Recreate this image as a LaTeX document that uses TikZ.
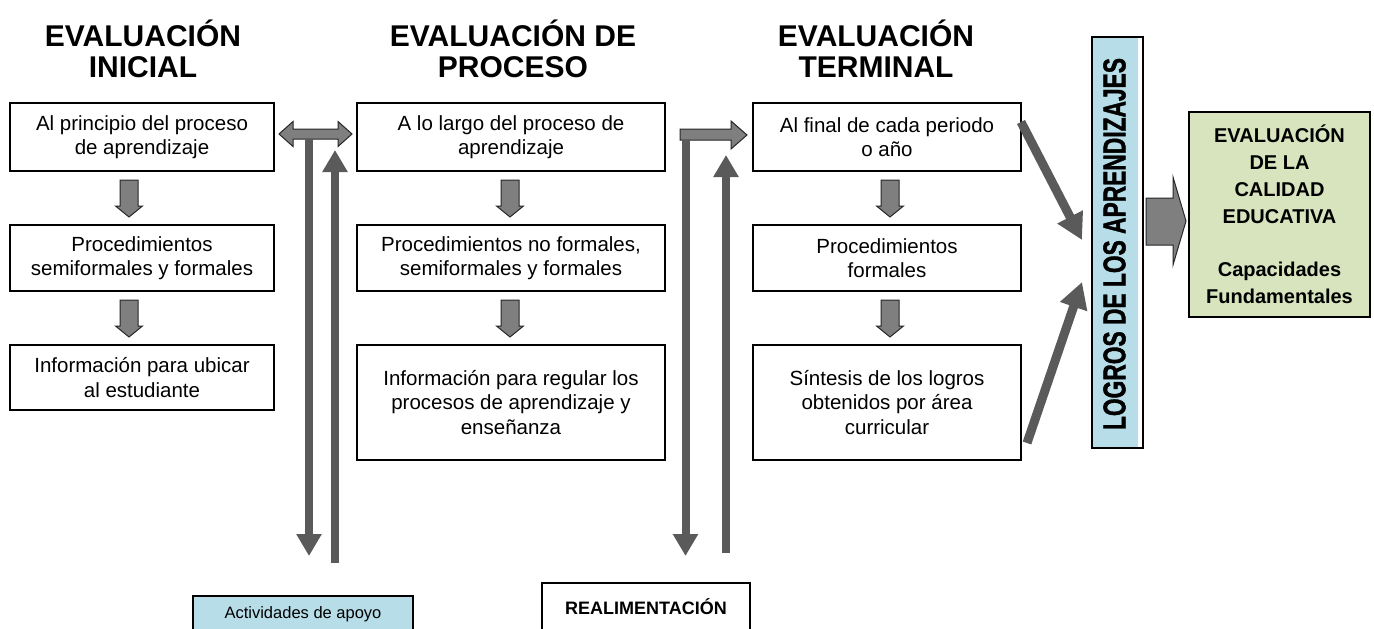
\documentclass[tikz,border=0pt]{standalone}
\usepackage{fontspec}
\setmainfont{Liberation Sans}
\newfontfamily\lgfont{Liberation Sans}[BoldFeatures={FakeBold=1.6}]
\usetikzlibrary{arrows.meta,calc}
\definecolor{lblue}{HTML}{B7DDE8}
\definecolor{lgreen}{HTML}{D7E4BD}
\definecolor{agray}{HTML}{7F7F7F}
\definecolor{dgray}{HTML}{5A5A5A}
\newcommand{\downblk}[3]{%
  \filldraw[blockarrow] ({#1-9},#2) -- ({#1+9},#2) -- ({#1+9},{#3-11}) -- ({#1+13.5},{#3-11})
    -- (#1,#3) -- ({#1-13.5},{#3-11}) -- ({#1-9},{#3-11}) -- cycle;}
\begin{document}
\begin{tikzpicture}[x=1pt,y=-1pt,
  box/.style={draw=black, line width=1.6pt, align=center, inner sep=2pt,
    font=\fontsize{20.5}{24.5}\selectfont},
  head/.style={align=center, inner sep=0pt, font=\fontsize{30}{31}\selectfont\bfseries},
  blockarrow/.style={fill=agray, draw=black!85, line width=1pt, line join=miter},
  thinarrow/.style={draw=dgray, line width=8pt, -{Triangle[width=24pt,length=22pt]}},
  diagarrow/.style={draw=dgray, line width=9pt, -{Triangle[width=27pt,length=26pt]}},
]
\useasboundingbox (0,0) rectangle (1374,629);

% headings
\node[head] (h1) at (143,50.5) {\rule{0pt}{30pt}EVALUACIÓN\\INICIAL\rule[-8pt]{0pt}{8pt}};
\node[head] (h2) at (513,50.5) {\rule{0pt}{30pt}EVALUACIÓN DE\\PROCESO\rule[-8pt]{0pt}{8pt}};
\node[head] (h3) at (876,50.5) {\rule{0pt}{30pt}EVALUACIÓN\\TERMINAL\rule[-8pt]{0pt}{8pt}};

% column 1
\node[box, minimum width=264pt, minimum height=68pt] (a1) at (142,137) {Al principio del proceso\\de aprendizaje};
\node[box, minimum width=264pt, minimum height=66pt] (a2) at (142,258) {Procedimientos\\semiformales y formales};
\node[box, minimum width=264pt, minimum height=65pt] (a3) at (142,377.5) {Información para ubicar\\al estudiante};
% column 2
\node[box, minimum width=308pt, minimum height=68pt] (b1) at (511,137) {A lo largo del proceso de\\aprendizaje};
\node[box, minimum width=308pt, minimum height=66pt] (b2) at (511,258) {Procedimientos no formales,\\semiformales y formales};
\node[box, minimum width=308pt, minimum height=115pt] (b3) at (511,402.5) {Información para regular los\\procesos de aprendizaje y\\enseñanza};
% column 3
\node[box, minimum width=268pt, minimum height=68pt] (c1) at (887,137) {Al final de cada periodo\\o año};
\node[box, minimum width=268pt, minimum height=66pt] (c2) at (887,258) {Procedimientos\\formales};
\node[box, minimum width=268pt, minimum height=115pt] (c3) at (887,402.5) {Síntesis de los logros\\obtenidos por área\\curricular};

% small block arrows
\downblk{129}{180}{217}
\downblk{129}{300}{337}
\downblk{510}{180}{217}
\downblk{510}{300}{337}
\downblk{890}{180}{217}
\downblk{890}{300}{337}

% horizontal block arrows
\filldraw[blockarrow] (279,134) -- (293,121.5) -- (293,129) -- (338,129) -- (338,121.5) -- (352,134)
  -- (338,146.5) -- (338,139) -- (293,139) -- (293,146.5) -- cycle;
\filldraw[blockarrow] (680,129) -- (731,129) -- (731,121) -- (747,135) -- (731,149) -- (731,140)
  -- (680,140) -- cycle;

% bottom boxes
\node[box, fill=lblue, minimum width=220pt, minimum height=36pt,
  font=\fontsize{16.5}{20}\selectfont] (act) at (303,614) {Actividades de apoyo};
\node[box, minimum width=208pt, minimum height=48pt,
  font=\fontsize{18}{22}\selectfont\bfseries] (real) at (646,607) {REALIMENTACIÓN};

% vertical arrows
\coordinate (d1s) at (309,138.5);
\coordinate (d1e) at (309,556);
\coordinate (u1s) at (335,563);
\coordinate (u1e) at (335,150);
\coordinate (d2s) at (685.5,139.5);
\coordinate (d2e) at (685.5,556);
\coordinate (u2s) at (726,553);
\coordinate (u2e) at (726,155);
\draw[thinarrow] (d1s) -- (d1e);
\draw[thinarrow] (u1s) -- (u1e);
\draw[thinarrow] (d2s) -- (d2e);
\draw[thinarrow] (u2s) -- (u2e);

% LOGROS box
\fill[lblue] (1092,37) rectangle (1137.5,448);
\draw[line width=1.6pt] (1092,37) rectangle (1143,448);
\node[rotate=90, inner sep=0pt] (logros) at (1114.5,244)
  {\resizebox{372pt}{22pt}{\lgfont\bfseries LOGROS DE LOS APRENDIZAJES}};

% diagonal arrows
\coordinate (g1s) at (1021,122);
\coordinate (g1e) at (1082,240);
\coordinate (g2s) at (1027,443);
\coordinate (g2e) at (1082,282);
\draw[diagarrow] (g1s) -- (g1e);
\draw[diagarrow] (g2s) -- (g2e);

% big arrow
\filldraw[blockarrow] (1146,198) -- (1173,198) -- (1173,177) -- (1186,221) -- (1173,265)
  -- (1173,245) -- (1146,245) -- cycle;

% green box
\node[box, fill=lgreen, minimum width=181pt, minimum height=205pt,
  font=\fontsize{20}{27}\selectfont\bfseries] (cal) at (1279.5,214.5)
  {EVALUACIÓN\\DE LA\\CALIDAD\\EDUCATIVA\\[26pt]Capacidades\\Fundamentales};
\end{tikzpicture}
\end{document}
